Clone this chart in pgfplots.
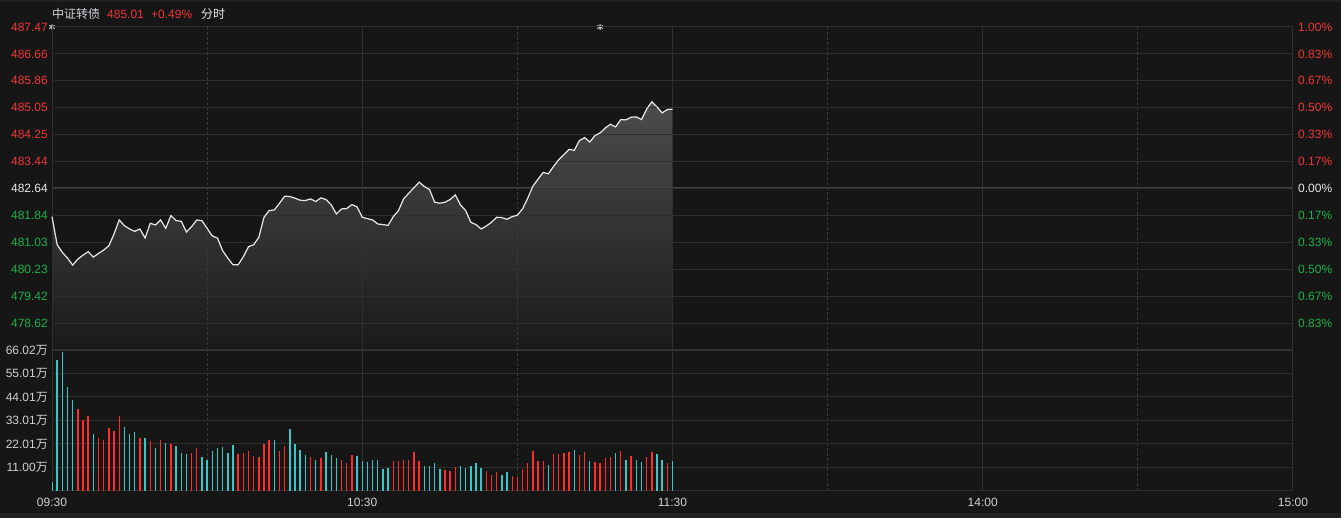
\documentclass[border=0pt]{standalone}
\usepackage{pgfplots}
\pgfplotsset{compat=1.18}
\usepackage{pgfplotstable}
\usepackage{fontspec}
\setmainfont{Liberation Sans}
\newfontfamily\cjk{Noto Sans CJK SC}
\definecolor{bgc}{HTML}{161616}
\definecolor{stripc}{HTML}{212121}
\definecolor{gridc}{HTML}{2F2F2F}
\definecolor{dashc}{HTML}{3A3A3A}
\definecolor{midc}{HTML}{424242}
\definecolor{divc}{HTML}{383838}
\definecolor{upc}{HTML}{F03636}
\definecolor{dnc}{HTML}{1DB14B}
\definecolor{txtc}{HTML}{CDD1D6}
\definecolor{wc}{HTML}{E6E8EA}
\definecolor{barr}{HTML}{FF2C2C}
\definecolor{barc}{HTML}{38C6C8}
\definecolor{linec}{HTML}{E8E8E8}
\definecolor{shadetop}{HTML}{4C4C4C}
\definecolor{shadebot}{HTML}{1A1A1A}
\definecolor{starc}{HTML}{C8C8C8}
\pgfplotsset{/pgf/number format/assume math mode=true}

\pgfplotstableread{
t p
0 481.80
1 480.96
2 480.73
3 480.56
4 480.35
5 480.53
6 480.65
7 480.75
8 480.59
9 480.70
10 480.80
11 480.93
12 481.28
13 481.70
14 481.53
15 481.43
16 481.36
17 481.43
18 481.16
19 481.60
20 481.55
21 481.70
22 481.45
23 481.83
24 481.68
25 481.66
26 481.34
27 481.50
28 481.70
29 481.68
30 481.45
31 481.22
32 481.16
33 480.78
34 480.56
35 480.36
36 480.36
37 480.60
38 480.90
39 480.96
40 481.18
41 481.78
42 481.98
43 482.00
44 482.20
45 482.41
46 482.40
47 482.35
48 482.29
49 482.28
50 482.33
51 482.25
52 482.36
53 482.31
54 482.15
55 481.88
56 482.03
57 482.04
58 482.16
59 482.09
60 481.78
61 481.74
62 481.70
63 481.58
64 481.56
65 481.54
66 481.80
67 481.98
68 482.33
69 482.50
70 482.66
71 482.83
72 482.70
73 482.61
74 482.23
75 482.20
76 482.23
77 482.31
78 482.45
79 482.15
80 481.98
81 481.63
82 481.56
83 481.43
84 481.52
85 481.63
86 481.78
87 481.77
88 481.72
89 481.80
90 481.84
91 482.03
92 482.35
93 482.71
94 482.92
95 483.12
96 483.08
97 483.30
98 483.50
99 483.65
100 483.81
101 483.78
102 484.07
103 484.16
104 484.03
105 484.22
106 484.30
107 484.45
108 484.56
109 484.48
110 484.70
111 484.69
112 484.77
113 484.78
114 484.70
115 485.01
116 485.23
117 485.08
118 484.90
119 485.00
120 485.01
}\price

\pgfplotstableread{
t v
5 38.4
6 33.2
7 35.1
9 24.8
10 23.9
11 29.5
12 28.1
13 35.1
17 24.8
19 23.4
21 23.9
23 22.0
27 17.8
28 20.1
36 17.3
37 17.8
38 18.7
39 16.4
40 15.9
41 22.0
42 23.9
44 18.7
45 21.1
50 15.9
52 15.4
56 14.5
57 13.1
58 16.8
66 14.0
67 14.0
68 14.5
69 14.5
70 18.3
71 14.0
76 9.8
77 9.4
78 11.2
84 9.4
85 7.5
86 8.9
89 7.0
90 6.6
91 10.3
92 13.1
93 18.7
94 14.0
95 14.0
97 17.3
98 17.3
99 17.8
100 18.3
102 16.8
103 18.3
105 13.6
106 13.1
107 15.4
108 15.9
110 18.7
112 16.4
115 15.9
116 18.3
119 13.1
}\volred

\pgfplotstableread{
t v
0 4.2
1 61.3
2 65.2
3 48.7
4 42.6
8 26.7
14 30.0
15 26.7
16 27.6
18 24.8
20 20.1
22 22.5
24 21.1
25 17.8
26 17.3
29 15.9
30 14.5
31 18.7
32 20.1
33 20.6
34 17.8
35 21.5
43 23.9
46 29.0
47 22.0
48 19.2
49 16.8
51 14.5
53 18.3
54 16.8
55 15.4
59 16.4
60 14.0
61 13.6
62 14.5
63 14.5
64 10.3
65 10.8
72 11.7
73 11.7
74 13.1
75 10.3
79 11.7
80 10.8
81 11.7
82 13.1
83 10.8
87 7.5
88 8.9
96 12.2
101 19.2
104 14.0
109 17.8
111 14.5
113 14.5
114 13.6
117 17.3
118 14.5
120 14.0
}\volcyan

\newcommand{\fs}{\fontsize{12}{14}\selectfont}

\begin{document}
\begin{tikzpicture}[x=1pt,y=1pt]
\fill[bgc] (0,0) rectangle (1341,518);
\fill[stripc] (0,0) rectangle (1341,5);
\fill[stripc] (0,516) rectangle (1341,518);

% price panel
\begin{axis}[
  at={(52pt,168pt)}, anchor=south west, scale only axis,
  width=1241pt, height=323pt,
  xmin=0, xmax=240, ymin=477.814, ymax=487.466,
  set layers=axis on top,
  axis line style={draw=gridc, line width=1pt},
  xtick={60,120,180}, minor xtick={30,90,150,210}, xticklabels={},
  xmajorgrids, xminorgrids,
  ytick={487.466,486.662,485.858,485.053,484.249,483.444,482.64,481.836,481.031,480.227,479.422,478.618},
  yticklabels={\textcolor{upc}{487.47},\textcolor{upc}{486.66},\textcolor{upc}{485.86},\textcolor{upc}{485.05},\textcolor{upc}{484.25},\textcolor{upc}{483.44},\textcolor{wc}{482.64},\textcolor{dnc}{481.84},\textcolor{dnc}{481.03},\textcolor{dnc}{480.23},\textcolor{dnc}{479.42},\textcolor{dnc}{478.62}},
  ymajorgrids,
  major grid style={gridc, line width=1pt},
  minor grid style={dashc, line width=0.8pt, dash pattern=on 3pt off 2pt},
  major tick length=0pt, minor tick length=0pt,
  tick style={draw=none},
  yticklabel style={font=\fs, inner sep=0pt, xshift=-4pt},
]
\addplot[draw=none, top color=shadetop, bottom color=shadebot] table[x=t,y=p]{\price} -- (axis cs:120,477.814) -- (axis cs:0,477.814) -- cycle;
\addplot[midc, line width=2pt] coordinates {(0,482.64) (240,482.64)};
\addplot[linec, line width=1.2pt, on layer=axis foreground] table[x=t,y=p]{\price};
\end{axis}

% right percent labels + markers
\begin{axis}[
  at={(52pt,168pt)}, anchor=south west, scale only axis,
  width=1241pt, height=323pt,
  xmin=0, xmax=240, ymin=477.814, ymax=487.466,
  axis x line=none, axis y line*=right,
  axis line style={draw=gridc, line width=1pt},
  ytick={487.466,486.662,485.858,485.053,484.249,483.444,482.64,481.836,481.031,480.227,479.422,478.618},
  yticklabels={\textcolor{upc}{1.00\%},\textcolor{upc}{0.83\%},\textcolor{upc}{0.67\%},\textcolor{upc}{0.50\%},\textcolor{upc}{0.33\%},\textcolor{upc}{0.17\%},\textcolor{wc}{0.00\%},\textcolor{dnc}{0.17\%},\textcolor{dnc}{0.33\%},\textcolor{dnc}{0.50\%},\textcolor{dnc}{0.67\%},\textcolor{dnc}{0.83\%}},
  major tick length=0pt, tick style={draw=none},
  yticklabel style={font=\fs, inner sep=0pt, xshift=5pt},
  clip=false,
]
\addplot[only marks, mark=asterisk, mark size=3.2pt, starc, line width=0.9pt] coordinates {(0,487.466) (106,487.466)};
\addplot[only marks, mark=*, mark size=1.6pt, starc] coordinates {(0,487.466) (106,487.466)};
\end{axis}

% volume panel
\begin{axis}[
  at={(52pt,27pt)}, anchor=south west, scale only axis,
  width=1241pt, height=141pt,
  xmin=0, xmax=240, ymin=0, ymax=66.02,
  axis line style={draw=gridc, line width=1pt},
  xtick={0,60,120,180,240}, xticklabels={09:30,10:30,11:30,14:00,15:00},
  minor xtick={30,90,150,210},
  xmajorgrids, xminorgrids,
  ytick={11.004,22.007,33.01,44.013,55.017,66.02},
  yticklabels={11.00{\cjk 万},22.01{\cjk 万},33.01{\cjk 万},44.01{\cjk 万},55.01{\cjk 万},66.02{\cjk 万}},
  ymajorgrids,
  major grid style={gridc, line width=1pt},
  minor grid style={dashc, line width=0.8pt, dash pattern=on 3pt off 2pt},
  major tick length=0pt, minor tick length=0pt,
  tick style={draw=none},
  yticklabel style={font=\fs, text=txtc, inner sep=0pt, xshift=-4pt},
  xticklabel style={font=\fs, text=txtc, inner sep=0pt, yshift=-7pt},
]
\addplot[ycomb, barr, line width=1.4pt] table[x=t,y=v]{\volred};
\addplot[ycomb, barc, line width=1.4pt] table[x=t,y=v]{\volcyan};
\end{axis}

\draw[divc, line width=2pt] (52,168) -- (1293,168);

% header
\node[anchor=base west, inner sep=0pt, text=txtc, font=\cjk\fs] at (52,499) {中证转债};
\node[anchor=base west, inner sep=0pt, text=upc, font=\fs] at (107,499) {485.01};
\node[anchor=base west, inner sep=0pt, text=upc, font=\fs] at (151,499) {+0.49\%};
\node[anchor=base west, inner sep=0pt, text=wc, font=\cjk\fs] at (201,499) {分时};
\end{tikzpicture}
\end{document}
